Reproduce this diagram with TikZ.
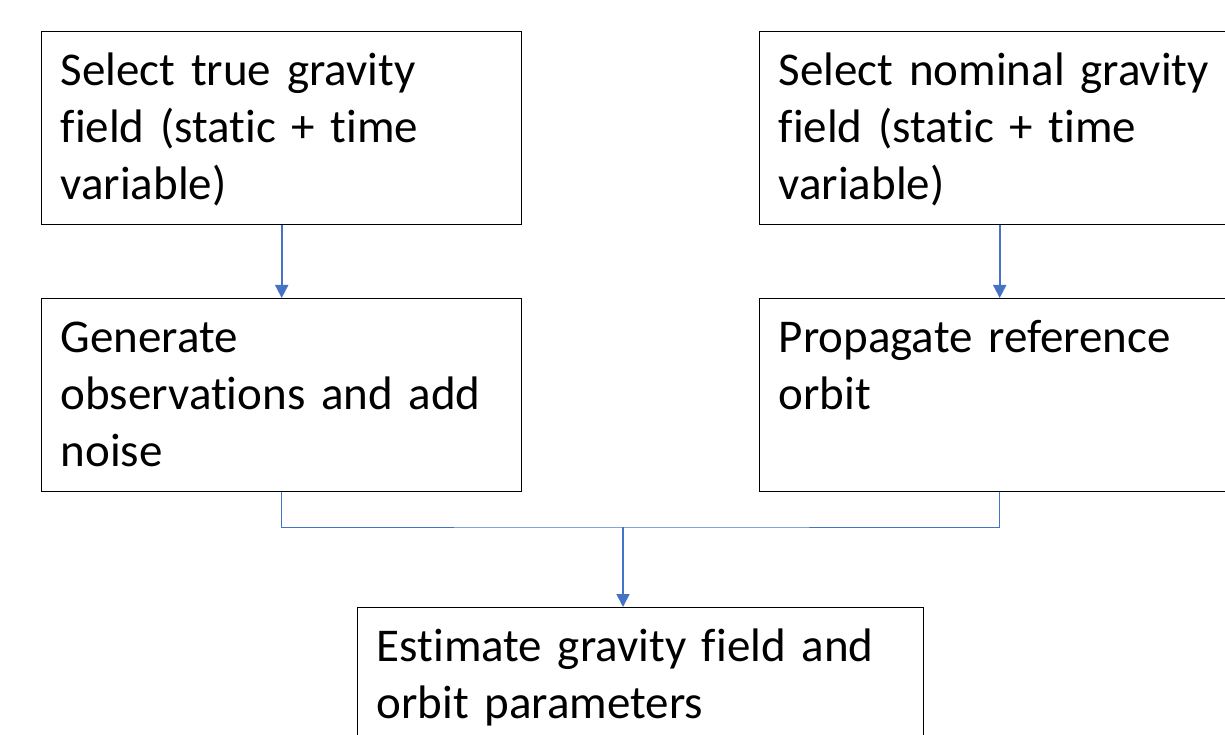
\documentclass[tikz,border=0pt]{standalone}
\usepackage{fontspec}
\setmainfont{Carlito}[Ligatures=NoCommon]
\usetikzlibrary{arrows.meta,positioning,calc}
\definecolor{FlowBlue}{RGB}{68,114,196}
\tikzset{
  stepbox/.style={draw=black, line width=1.4pt, anchor=north west,
    inner xsep=19pt, inner ysep=0pt, align=left,
    text height=54pt, text depth=139pt,
    font=\fontsize{47}{57}\selectfont},
  flowarrow/.style={draw=FlowBlue, line width=1.8pt,
    -{Triangle[width=13pt,length=13pt]}},
  joinline/.style={draw=FlowBlue, line width=1pt}
}
\begin{document}
\begin{tikzpicture}[x=1pt,y=1pt]
  \useasboundingbox (0,0) rectangle (1225,734);
  % upper row
  \node[stepbox, text width=442pt] (selTrue) at (41,703)
    {Select true gravity\\field (static + time\\variable)};
  \node[stepbox, text width=442pt] (selNom) at (759,703)
    {Select nominal gravity\\field (static + time\\variable)};
  % middle row
  \node[stepbox, text width=442pt] (genObs) at (41,436)
    {Generate\\observations and add\\noise};
  \node[stepbox, text width=442pt] (propOrb) at (759,436)
    {Propagate reference\\orbit};
  % bottom box
  \node[stepbox, text width=528pt] (estimate) at (357,127)
    {Estimate gravity field and\\orbit parameters};
  % connectors
  \draw[flowarrow] (selTrue) -- (genObs);
  \draw[flowarrow] (selNom) -- (propOrb);
  \coordinate (join) at (623,207);
  \draw[joinline] (genObs.south) |- (join) -| (propOrb.south);
  \draw[flowarrow] (join) -- (join |- estimate.north);
\end{tikzpicture}
\end{document}
